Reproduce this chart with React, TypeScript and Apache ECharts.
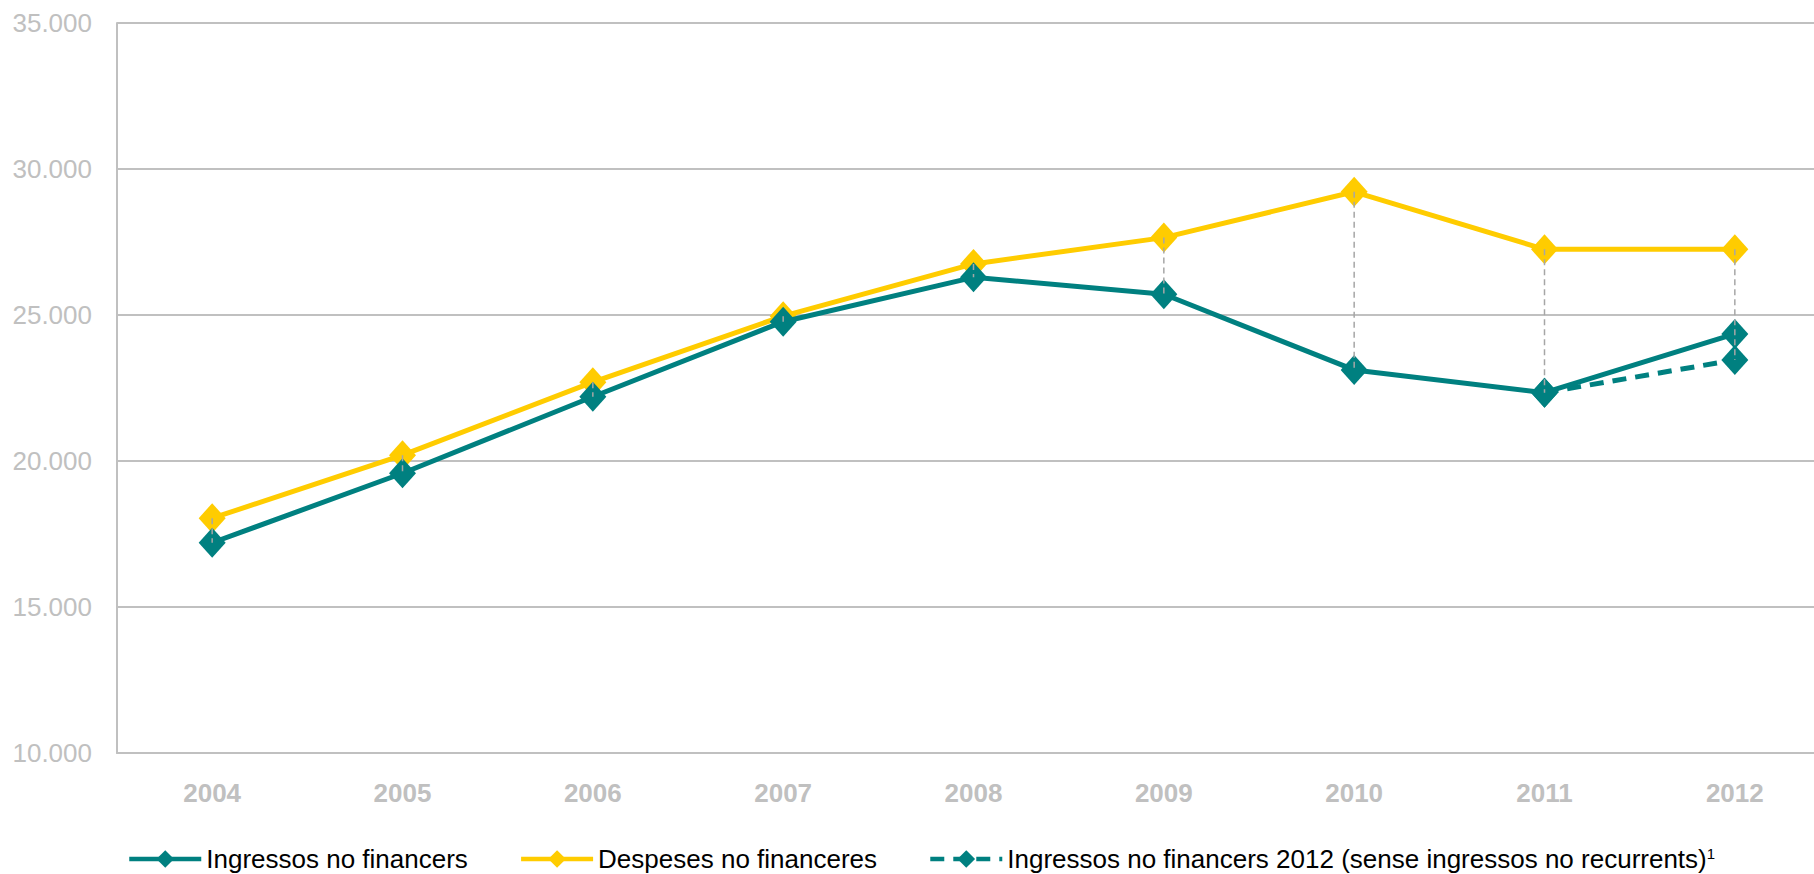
import React, { useEffect, useRef } from "react";
import * as echarts from "echarts";

const years = ["2004", "2005", "2006", "2007", "2008", "2009", "2010", "2011", "2012"];
const ingressos = [17200, 19580, 22200, 24770, 26290, 25710, 23120, 22340, 24350];
const despeses = [18040, 20200, 22700, 24960, 26750, 27650, 29220, 27250, 27250];
const senseRecurrents = [null, null, null, null, null, null, null, 22340, 23460];

const nameIngressos = "Ingressos no financers";
const nameDespeses = "Despeses no financeres";
const nameSense = "Ingressos no financers 2012 (sense ingressos no recurrents)";

const TEAL = "#008080";
const YELLOW = "#FFCC00";
const GRID = "#C0C0C0";
const FONT = "'Liberation Sans', Arial, sans-serif";

function fmt(v: number) {
  const s = String(Math.round(v));
  return s.replace(/\B(?=(\d{3})+(?!\d))/g, ".");
}

export default function App() {
  const ref = useRef<HTMLDivElement>(null);
  useEffect(() => {
    if (!ref.current) return;
    document.body.style.margin = "0";
    document.body.style.overflow = "hidden";
    const chart = echarts.init(ref.current, undefined, { renderer: "svg" });
    const hiLow = years.map((_, i) => {
      const vals = [ingressos[i], despeses[i], senseRecurrents[i]].filter(
        (v) => v !== null && v !== undefined
      ) as number[];
      return [i, Math.max(...vals), Math.min(...vals)];
    });
    chart.setOption({
      animation: false,
      backgroundColor: "#ffffff",
      textStyle: { fontFamily: FONT },
      grid: {
        left: 117,
        width: 1713,
        top: 23,
        height: 730,
        containLabel: false,
        outerBoundsMode: "none",
      },
      legend: {
        data: [nameIngressos, nameDespeses, nameSense],
        left: 127,
        top: 846,
        padding: 0,
        itemGap: 51,
        itemWidth: 72,
        itemHeight: 22,
        lineStyle: { width: 4.5 },
        textStyle: {
          fontSize: 26,
          color: "#000000",
          fontFamily: FONT,
          rich: {
            sup: {
              fontSize: 15,
              verticalAlign: "top",
              color: "#000000",
              fontFamily: FONT,
              padding: [0, 0, 8, 0],
            },
          },
        },
        formatter: (name: string) => (name === nameSense ? name + "{sup|1}" : name),
      },
      xAxis: {
        type: "category",
        data: years,
        boundaryGap: true,
        axisLine: { show: true, lineStyle: { color: GRID, width: 2 } },
        axisTick: { show: false },
        axisLabel: {
          color: GRID,
          fontSize: 26,
          fontWeight: "bold",
          margin: 27,
          fontFamily: FONT,
        },
        splitLine: { show: false },
      },
      yAxis: {
        type: "value",
        min: 10000,
        max: 35000,
        interval: 5000,
        axisLine: { show: true, lineStyle: { color: GRID, width: 2 } },
        axisTick: { show: false },
        axisLabel: {
          color: GRID,
          fontSize: 26,
          margin: 25,
          fontFamily: FONT,
          formatter: (v: number) => fmt(v),
        },
        splitLine: { show: true, lineStyle: { color: GRID, width: 2 } },
      },
      series: [
        {
          name: nameDespeses,
          type: "line",
          data: despeses,
          symbol: "diamond",
          symbolSize: [27, 30],
          lineStyle: { color: YELLOW, width: 5 },
          itemStyle: { color: YELLOW },
          z: 2,
        },
        {
          name: nameSense,
          type: "line",
          data: senseRecurrents,
          symbol: "diamond",
          symbolSize: [27, 30],
          lineStyle: { color: TEAL, width: 5, type: [14, 9] },
          itemStyle: { color: TEAL },
          z: 3,
        },
        {
          name: nameIngressos,
          type: "line",
          data: ingressos,
          symbol: "diamond",
          symbolSize: [27, 30],
          lineStyle: { color: TEAL, width: 5 },
          itemStyle: { color: TEAL },
          z: 4,
        },
        {
          name: "hilow",
          type: "custom",
          data: hiLow,
          z: 10,
          silent: true,
          renderItem: (params: any, api: any) => {
            const i = api.value(0);
            const p1 = api.coord([i, api.value(1)]);
            const p2 = api.coord([i, api.value(2)]);
            return {
              type: "line",
              shape: { x1: p1[0], y1: p1[1], x2: p2[0], y2: p2[1] },
              style: { stroke: "#A6A6A6", lineWidth: 1.5, lineDash: [6, 4] },
            };
          },
        },
      ],
    });
    return () => chart.dispose();
  }, []);
  return (
    <div
      ref={ref}
      style={{ position: "fixed", left: 0, top: 0, width: 1814, height: 874 }}
    />
  );
}
